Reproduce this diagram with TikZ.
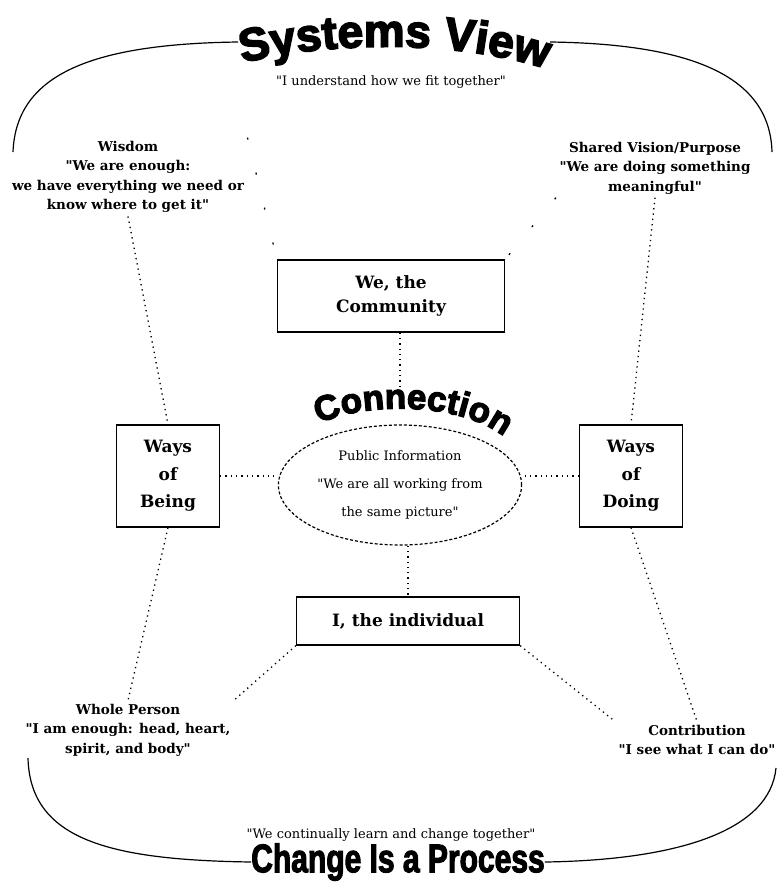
\documentclass[tikz,border=0pt]{standalone}
\usepackage{fontspec}
\setmainfont{DejaVu Serif}
\newfontfamily\heavyfont[FakeBold=3.5]{Liberation Sans}
\newfontfamily\narrowfont[FakeStretch=0.75,FakeBold=2.5]{Liberation Sans}
\usetikzlibrary{shapes.geometric,decorations.text}
\newcommand\sysfont{\heavyfont\bfseries\fontsize{46}{46}\selectfont}
\newcommand\connfont{\heavyfont\bfseries\fontsize{35}{35}\selectfont}
\newcommand\dq{\textquotedbl}
\begin{document}
\begin{tikzpicture}[x=1pt,y=-1pt,
  box/.style={draw, line width=1.2pt, align=center, inner sep=0pt,
    font=\bfseries\fontsize{17}{24}\selectfont},
  saying/.style={align=center, font=\bfseries\fontsize{13.5}{19.5}\selectfont},
  motto/.style={align=center, font=\fontsize{13}{19}\selectfont},
  dots/.style={line width=1.3pt, dash pattern=on 1.3pt off 4pt},
  faint/.style={line width=1.3pt, dash pattern=on 2pt off 34pt},
  rim/.style={line width=1.2pt}]
\useasboundingbox (0,0) rectangle (779,892);
% titles
\path[decorate, decoration={text along path, text align=center,
  text={|\sysfont|Systems View}}] (238,64) .. controls (330,40) and (460,40) .. (550,70);
\path[decorate, decoration={text along path, text align=center,
  text={|\connfont|Connection}}] (312,428) .. controls (350,402) and (465,398) .. (510,442);
\node[font=\narrowfont\bfseries\fontsize{40}{40}\selectfont, inner sep=0pt] (process) at (398,862) {Change Is a Process};
% outer rim
\draw[rim] (13,152) .. controls (16,75) and (90,44) .. (238,42);
\draw[rim] (550,42) .. controls (700,44) and (770,80) .. (772,152);
\draw[rim] (28,758) .. controls (30,840) and (110,860) .. (process.west);
\draw[rim] (process.east) .. controls (680,860) and (770,830) .. (776,768);
\node[motto] (understand) at (391,82) {\dq I understand how we fit together\dq};
\node[motto] (learn) at (391,835) {\dq We continually learn and change together\dq};
% boxes
\node[box, minimum width=227pt, minimum height=72pt] (community) at (391,296) {We, the\\Community};
\node[box, minimum width=103pt, minimum height=102pt, font=\bfseries\fontsize{17}{27.5}\selectfont] (being) at (168,476) {Ways\\of\\Being};
\node[box, minimum width=103pt, minimum height=102pt, font=\bfseries\fontsize{17}{27.5}\selectfont] (doing) at (631,476) {Ways\\of\\Doing};
\node[box, minimum width=223pt, minimum height=48pt] (individual) at (408,621) {I, the individual};
\node[draw, ellipse, line width=1.2pt, densely dashed, minimum width=226pt, minimum height=120pt,
  align=center, font=\fontsize{13}{28}\selectfont] (info) at (400,485)
  {Public Information\\\dq We are all working from\\the same picture\dq};
\coordinate (conn) at (400,396);
% sayings
\node[saying] (wisdom) at (128,177) {Wisdom\\\dq We are enough:\\we have everything we need or\\know where to get it\dq};
\node[saying] (vision) at (655,168) {Shared Vision/Purpose\\\dq We are doing something\\meaningful\dq};
\node[saying] (whole) at (128,730) {Whole Person\\\dq I am enough: head, heart,\\spirit, and body\dq};
\node[saying] (contrib) at (697,740) {Contribution\\\dq I see what I can do\dq};
% links
\draw[dots] (community.south -| conn) -- (conn);
\draw[dots] (info.south -| individual.north) -- (individual.north);
\draw[dots] (being.east) -- (being.east -| info.west);
\draw[dots] (doing.west) -- (doing.west -| info.east);
\draw[dots] (wisdom.south) -- (being.north);
\draw[dots] (vision.south) -- (doing.north);
\draw[dots] (being.south) -- (whole.north);
\draw[dots] (doing.south) -- (contrib.north);
\draw[dots] (individual.south west) -- (whole.north east);
\draw[dots] (individual.south east) -- (contrib.north west);
\draw[faint] (wisdom.north east) -- (community.north west);
\draw[faint] (vision.south west) -- (community.north east);
\end{tikzpicture}
\end{document}
